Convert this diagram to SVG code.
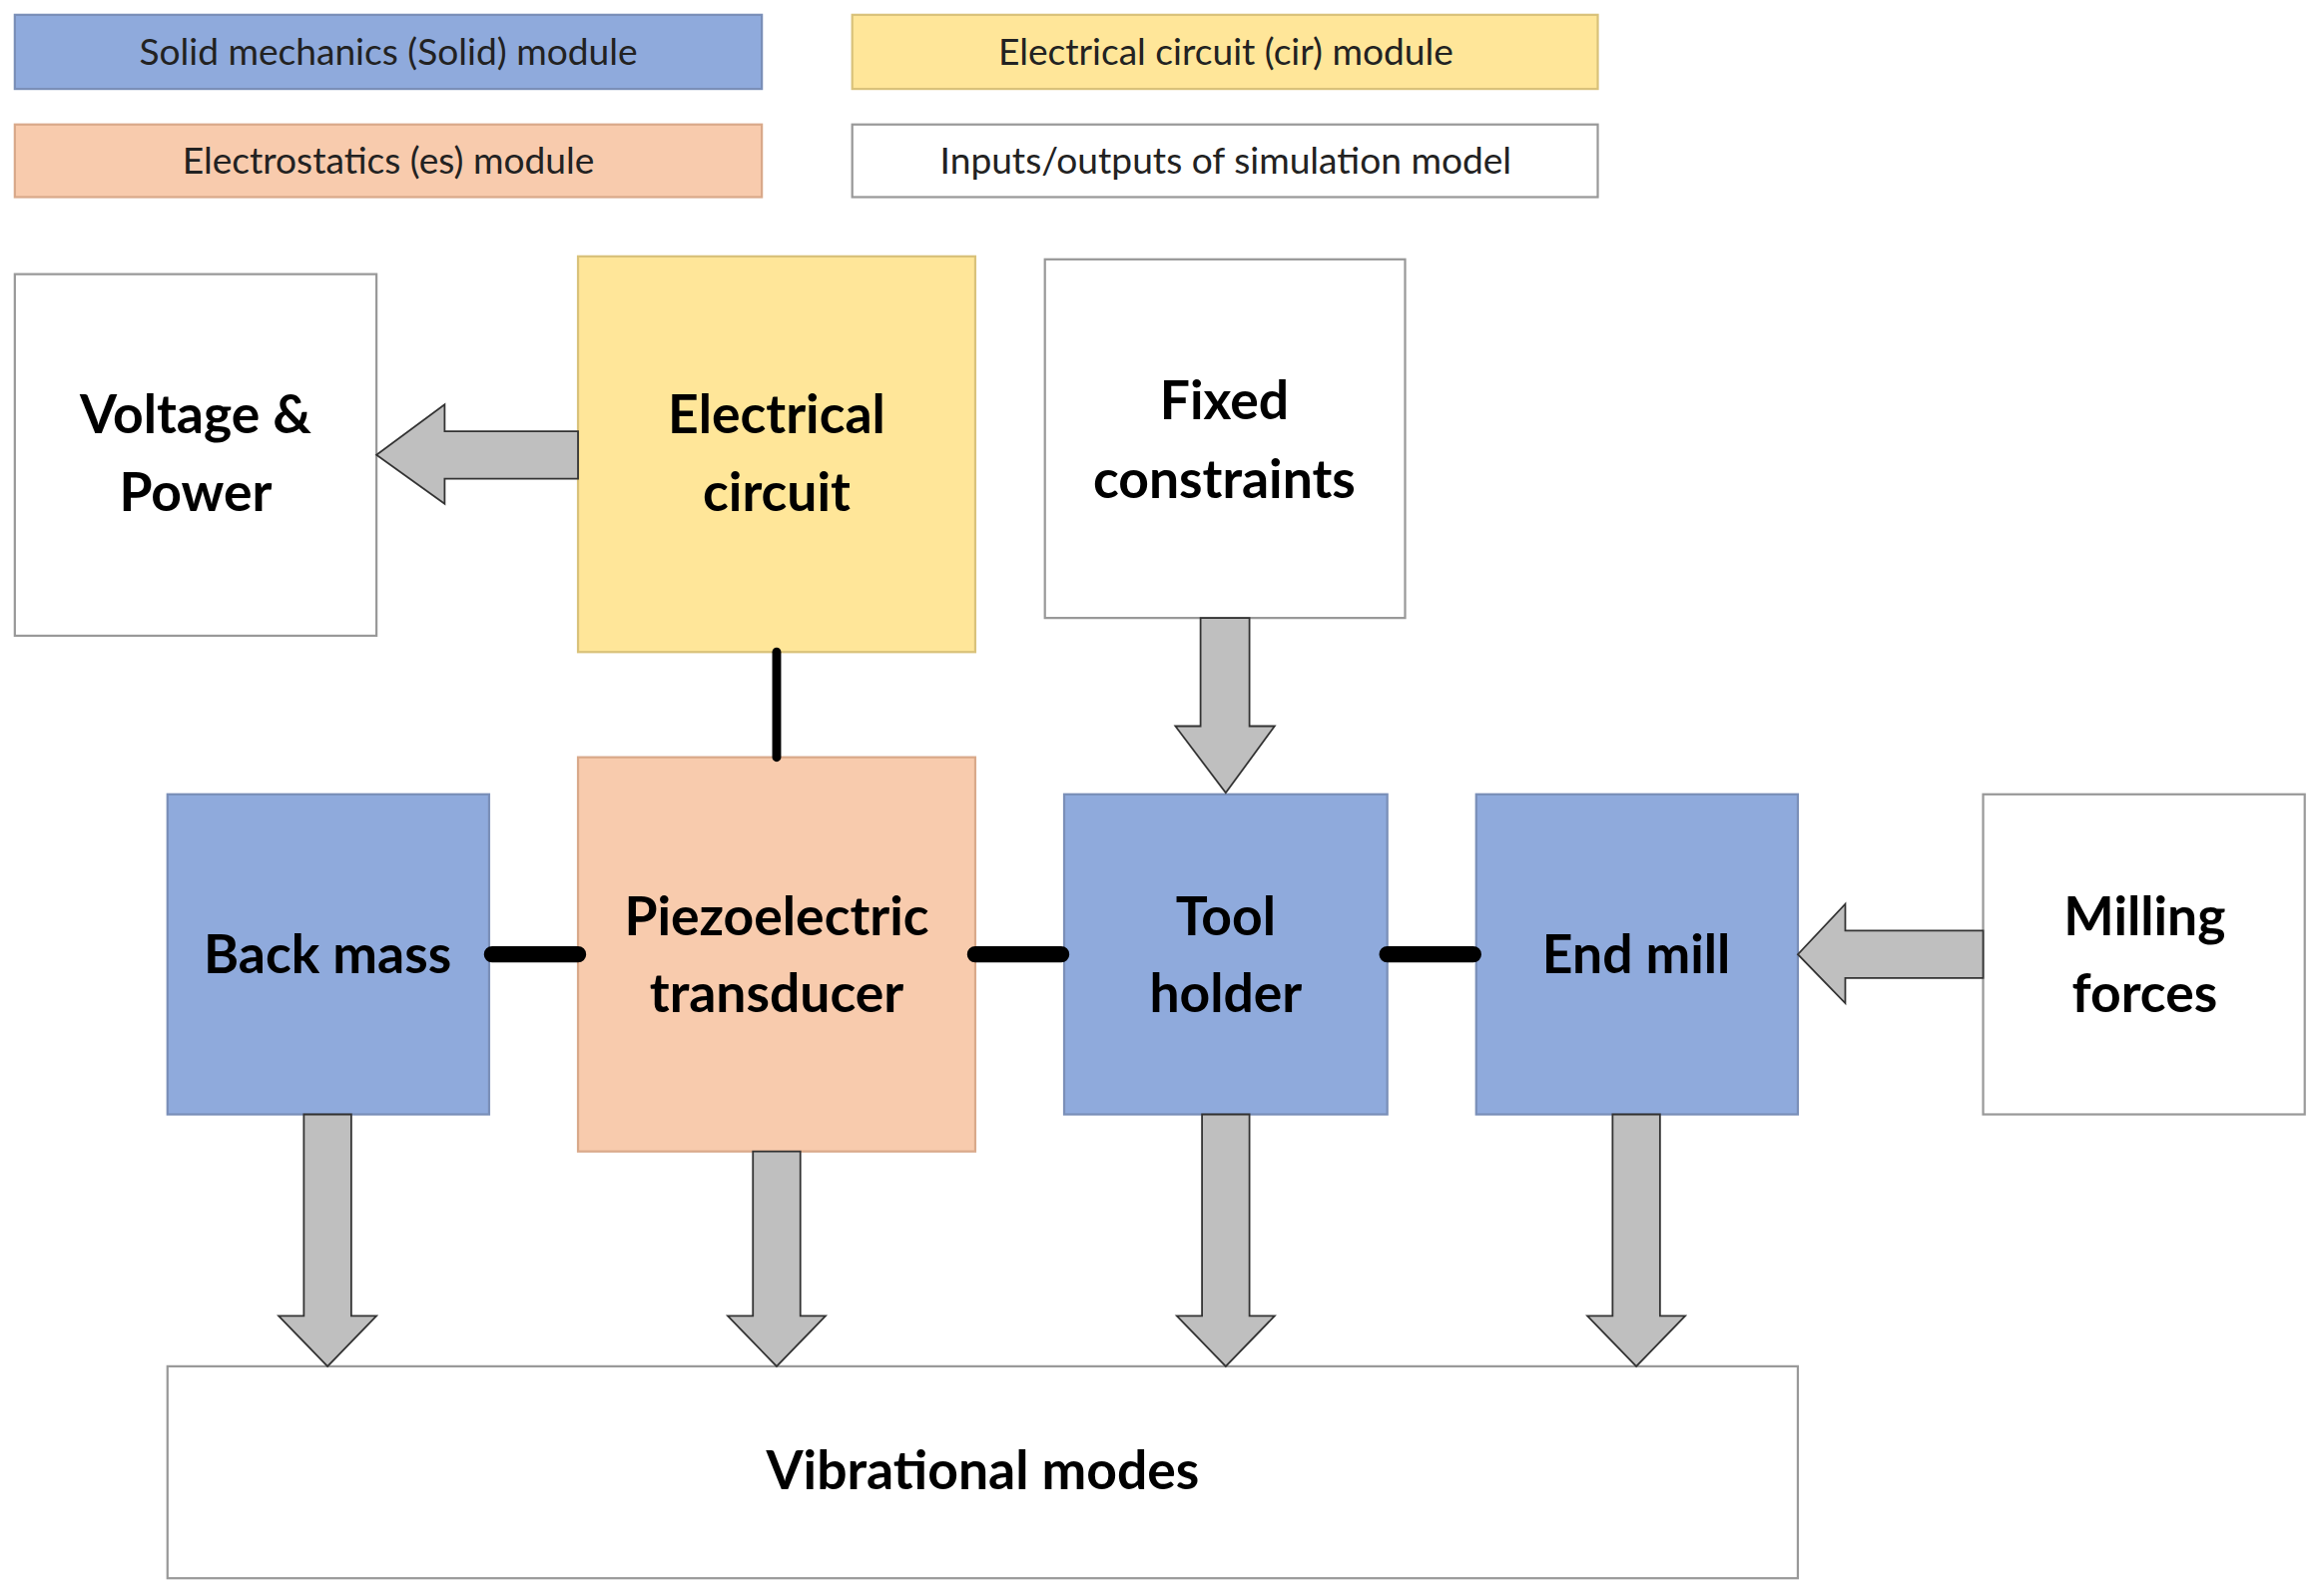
<svg xmlns="http://www.w3.org/2000/svg" width="2328" height="1596" viewBox="0 0 2328 1596">
<style>
.b{fill:#8faadc;stroke:#7a8fb8;stroke-width:1.5}
.y{fill:#ffe699;stroke:#d9c27a;stroke-width:1.5}
.o{fill:#f8cbad;stroke:#d9a98a;stroke-width:1.5}
.w{fill:#fff;stroke:#999;stroke-width:1.5}
.lt{font-family:Lato,"Open Sans",sans-serif;font-size:25px;fill:#222;text-anchor:middle}
.t{font-family:Lato,"Open Sans",sans-serif;font-weight:bold;font-size:36px;fill:#000;text-anchor:middle}
.ar{fill:#bfbfbf;stroke:#333;stroke-width:1.2}
.c{stroke:#000;stroke-linecap:round;fill:none}
</style>
<rect width="2328" height="1596" fill="#fff"/>
<g transform="scale(1.4847)">
<g id="legend">
<rect class="b" x="10" y="10" width="504" height="50"/><text class="lt" x="262" y="44">Solid mechanics (Solid) module</text>
<rect class="y" x="575" y="10" width="503" height="50"/><text class="lt" x="827" y="44">Electrical circuit (cir) module</text>
<rect class="o" x="10" y="84" width="504" height="49"/><text class="lt" x="262" y="117">Electrostatics (es) module</text>
<rect class="w" x="575" y="84" width="503" height="49"/><text class="lt" x="827" y="117">Inputs/outputs of simulation model</text>
</g>
<g id="voltage"><rect class="w" x="10" y="185" width="244" height="244"/><text class="t" x="132" y="292">Voltage &amp;</text><text class="t" x="132" y="345">Power</text></g>
<g id="circuit"><rect class="y" x="390" y="173" width="268" height="267"/><text class="t" x="524" y="292">Electrical</text><text class="t" x="524" y="345">circuit</text></g>
<g id="fixed"><rect class="w" x="705" y="175" width="243" height="242"/><text class="t" x="826" y="283">Fixed</text><text class="t" x="826" y="336">constraints</text></g>
<g id="backmass"><rect class="b" x="113" y="536" width="217" height="216"/><text class="t" x="221" y="657">Back mass</text></g>
<g id="piezo"><rect class="o" x="390" y="511" width="268" height="266"/><text class="t" x="524" y="631">Piezoelectric</text><text class="t" x="524" y="683">transducer</text></g>
<g id="toolholder"><rect class="b" x="718" y="536" width="218" height="216"/><text class="t" x="827" y="631">Tool</text><text class="t" x="827" y="683">holder</text></g>
<g id="endmill"><rect class="b" x="996" y="536" width="217" height="216"/><text class="t" x="1104" y="657">End mill</text></g>
<g id="milling"><rect class="w" x="1338" y="536" width="217" height="216"/><text class="t" x="1447" y="631">Milling</text><text class="t" x="1447" y="683">forces</text></g>
<g id="modes"><rect class="w" x="113" y="922" width="1100" height="143"/><text class="t" x="663" y="1005">Vibrational modes</text></g>
<g id="connectors">
<path class="ar" d="M390,291 H300 V273 L254,307 L300,340 V323 H390 Z"/>
<path class="ar" d="M1338,628 H1245 V610 L1213,644 L1245,677 V660 H1338 Z"/>
<path class="ar" d="M810,417 V490 H793 L827,535 L860,490 H843 V417 Z"/>
<path class="ar" d="M205,752 V888 H188 L221,922 L254,888 H237 V752 Z"/>
<path class="ar" d="M508,777 V888 H491 L524,922 L557,888 H540 V777 Z"/>
<path class="ar" d="M811,752 V888 H794 L827,922 L860,888 H843 V752 Z"/>
<path class="ar" d="M1088,752 V888 H1071 L1104,922 L1137,888 H1120 V752 Z"/>
<path class="c" stroke-width="6" d="M524,440 V511"/>
<path class="c" stroke-width="11" d="M332,644 H390 M658,644 H716 M936,644 H994"/>
</g>
</g>
</svg>
